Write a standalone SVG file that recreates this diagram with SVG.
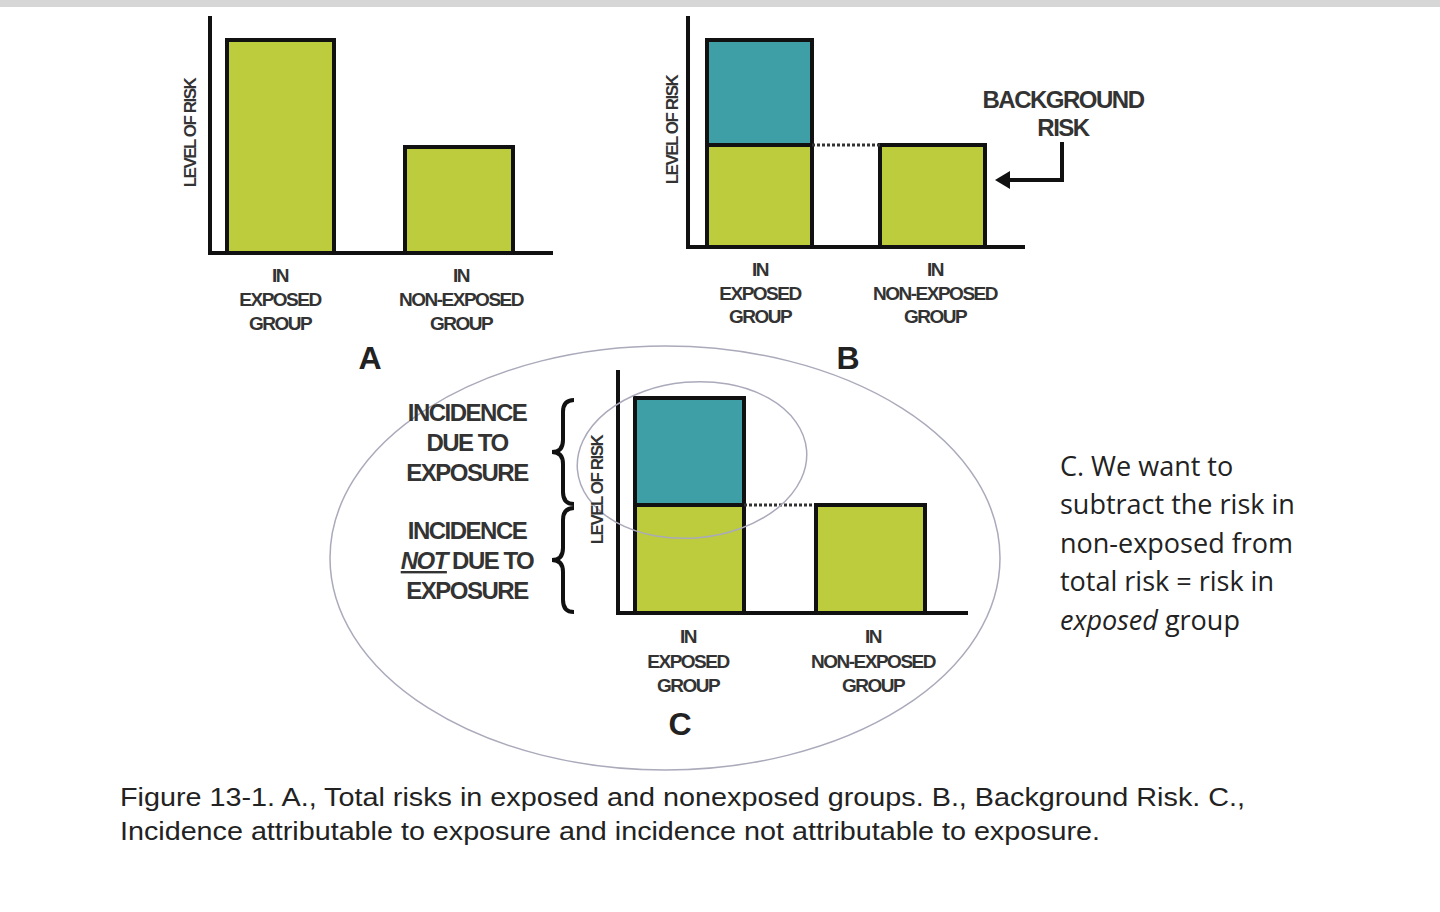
<svg xmlns="http://www.w3.org/2000/svg" width="1440" height="912" viewBox="0 0 1440 912">
<style>
.ax{stroke:#111;stroke-width:4;fill:none}
.g{fill:#bccc3c;stroke:#111;stroke-width:4}
.t{fill:#3e9fa6;stroke:#111;stroke-width:4}
.lb{font-family:"Liberation Sans",Arial,sans-serif;font-size:19px;font-weight:bold;fill:#333;text-anchor:middle;letter-spacing:-1.5px}
.yl{font-family:"Liberation Sans",Arial,sans-serif;font-size:17px;font-weight:bold;fill:#333;text-anchor:middle;letter-spacing:-1.5px}
.big{font-family:"Liberation Sans",Arial,sans-serif;font-size:32px;font-weight:bold;fill:#222;text-anchor:middle}
.inc{font-family:"Liberation Sans",Arial,sans-serif;font-size:24px;font-weight:bold;fill:#333;text-anchor:middle;letter-spacing:-1.5px}
.dot{stroke:#333;stroke-width:3;stroke-dasharray:3 2}
.side{font-family:"Open Sans",sans-serif;font-size:27px;fill:#222}
.cap{font-family:"Liberation Sans",Arial,sans-serif;font-size:25px;fill:#222}
.br{stroke:#111;stroke-width:4;fill:none}
</style>
<rect x="0" y="0" width="1440" height="7" fill="#d6d6d6"/>
<g id="chartA">
<rect class="g" x="227" y="40" width="107" height="213"/>
<rect class="g" x="405" y="147" width="108" height="106"/>
<path class="ax" d="M210 16V253H553"/>
<text class="yl" transform="translate(196,133) rotate(-90)">LEVEL OF RISK</text>
<text class="lb" x="280" y="282">IN</text><text class="lb" x="280" y="306">EXPOSED</text><text class="lb" x="280" y="330">GROUP</text>
<text class="lb" x="461" y="282">IN</text><text class="lb" x="461" y="306">NON-EXPOSED</text><text class="lb" x="461" y="330">GROUP</text>
<text class="big" x="370" y="369">A</text>
</g>
<g id="chartB">
<rect class="t" x="707" y="40" width="105" height="105"/>
<rect class="g" x="707" y="145" width="105" height="102"/>
<rect class="g" x="880" y="145" width="105" height="102"/>
<path class="ax" d="M688 16V247H1025"/>
<line class="dot" x1="812" y1="145" x2="880" y2="145"/>
<text class="yl" transform="translate(678,130) rotate(-90)">LEVEL OF RISK</text>
<text class="lb" x="760" y="276">IN</text><text class="lb" x="760" y="300">EXPOSED</text><text class="lb" x="760" y="323">GROUP</text>
<text class="lb" x="935" y="276">IN</text><text class="lb" x="935" y="300">NON-EXPOSED</text><text class="lb" x="935" y="323">GROUP</text>
<text class="big" x="848" y="369">B</text>
<text class="inc" x="1063" y="108">BACKGROUND</text><text class="inc" x="1063" y="136">RISK</text>
<path class="br" d="M1062 142V180H1005"/>
<path d="M995 180L1010 171V189Z" fill="#111"/>
</g>
<g id="chartC">
<ellipse cx="665" cy="558" rx="335" ry="212" fill="none" stroke="#aab" stroke-width="1.5"/>
<rect class="t" x="635" y="398" width="109" height="107"/>
<rect class="g" x="635" y="505" width="109" height="108"/>
<rect class="g" x="816" y="505" width="109" height="108"/>
<path class="ax" d="M618 370V613H968"/>
<line class="dot" x1="744" y1="505" x2="812" y2="505"/>
<ellipse cx="692" cy="460" rx="115" ry="78" transform="rotate(-5 692 460)" fill="none" stroke="#aab" stroke-width="1.5"/>
<text class="yl" transform="translate(603,490) rotate(-90)">LEVEL OF RISK</text>
<text class="inc" x="467" y="421">INCIDENCE</text><text class="inc" x="467" y="451">DUE TO</text><text class="inc" x="467" y="481">EXPOSURE</text>
<text class="inc" x="467" y="539">INCIDENCE</text><text class="inc" x="467" y="569"><tspan text-decoration="underline" font-style="italic">NOT</tspan> DUE TO</text><text class="inc" x="467" y="599">EXPOSURE</text>
<path class="br" d="M574 400Q563 400 563 412V440Q563 452 552 452Q563 452 563 464V492Q563 504 574 504"/>
<path class="br" d="M574 508Q563 508 563 520V548Q563 560 552 560Q563 560 563 572V600Q563 612 574 612"/>
<text class="lb" x="688" y="643">IN</text><text class="lb" x="688" y="668">EXPOSED</text><text class="lb" x="688" y="692">GROUP</text>
<text class="lb" x="873" y="643">IN</text><text class="lb" x="873" y="668">NON-EXPOSED</text><text class="lb" x="873" y="692">GROUP</text>
<text class="big" x="680" y="735">C</text>
</g>
<g id="note">
<text class="side" x="1060" y="476">C. We want to</text>
<text class="side" x="1060" y="514">subtract the risk in</text>
<text class="side" x="1060" y="553">non-exposed from</text>
<text class="side" x="1060" y="591">total risk = risk in</text>
<text class="side" x="1060" y="630"><tspan font-style="italic">exposed</tspan> group</text>
</g>
<g id="caption">
<text class="cap" x="120" y="806" textLength="1125" lengthAdjust="spacingAndGlyphs">Figure 13-1. A., Total risks in exposed and nonexposed groups. B., Background Risk. C.,</text>
<text class="cap" x="120" y="840" textLength="980" lengthAdjust="spacingAndGlyphs">Incidence attributable to exposure and incidence not attributable to exposure.</text>
</g>
</svg>
